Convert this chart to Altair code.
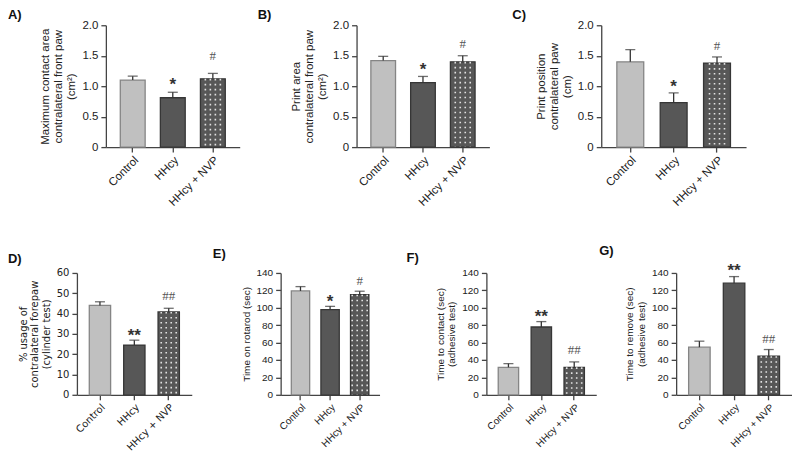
import altair as alt
import pandas as pd

groups = ["Control", "HHcy", "HHcy + NVP"]

a_mean = [1.10, 0.81, 1.12]
a_err = [0.065, 0.09, 0.09]
a_sig = ["", "*", "#"]
a_sig_y = [0, 1.09, 1.50]

b_mean = [1.42, 1.06, 1.40]
b_err = [0.07, 0.10, 0.10]
b_sig = ["", "*", "#"]
b_sig_y = [0, 1.33, 1.70]

c_mean = [1.40, 0.73, 1.38]
c_err = [0.20, 0.16, 0.10]
c_sig = ["", "*", "#"]
c_sig_y = [0, 1.05, 1.66]

d_mean = [44.0, 24.5, 40.8]
d_err = [1.8, 2.4, 1.8]
d_sig = ["", "**", "##"]
d_sig_y = [0, 31.0, 48.6]

e_mean = [119.3, 97.8, 115.0]
e_err = [5.0, 3.8, 4.0]
e_sig = ["", "*", "#"]
e_sig_y = [0, 111.0, 130.5]

f_mean = [31.6, 77.9, 31.6]
f_err = [4.2, 6.2, 6.2]
f_sig = ["", "**", "##"]
f_sig_y = [0, 94.0, 52.0]

g_mean = [54.7, 128.2, 44.4]
g_err = [6.9, 7.6, 7.6]
g_sig = ["", "**", "##"]
g_sig_y = [0, 147.0, 64.0]

fills = ["#c0c0c0", "#575757", "#575757"]
strokes = ["#858585", "#363636", "#363636"]
AXC = "#444444"
TXT = "#222222"


def panel(label, mean, err, sig, sig_y, ymax, yvals, ytitle, width, height,
          font, fs, tfs, ldx, ldy, fmt_decimal):
    df = pd.DataFrame({
        "group": groups,
        "mean": mean,
        "top": [m + e for m, e in zip(mean, err)],
        "sig": sig,
        "sig_y": sig_y,
    })
    if fmt_decimal:
        lexpr = "datum.value == 0 ? '0' : format(datum.value, '.1f')"
    else:
        lexpr = "format(datum.value, 'd')"
    yscale = alt.Scale(domain=[0, ymax], nice=False, zero=True)
    yaxis = alt.Axis(values=yvals, labelExpr=lexpr, title=ytitle,
                     labelFont=font, labelFontSize=fs, titleFont=font,
                     titleFontSize=tfs, titleFontWeight="normal",
                     titleLineHeight=tfs + 1.6, titlePadding=5,
                     labelPadding=3, tickSize=5)
    xenc = alt.X("group:N", sort=groups,
                 scale=alt.Scale(paddingInner=0.38, paddingOuter=0.36),
                 axis=alt.Axis(title=None, labelAngle=-45, labelFont=font,
                               labelFontSize=fs, labelPadding=2, tickSize=5))
    base = alt.Chart(df).encode(x=xenc)
    bars = base.mark_bar(strokeWidth=1.3).encode(
        y=alt.Y("mean:Q", scale=yscale, axis=yaxis),
        fill=alt.Fill("group:N", scale=alt.Scale(domain=groups, range=fills), legend=None),
        stroke=alt.Stroke("group:N", scale=alt.Scale(domain=groups, range=strokes), legend=None),
    )
    layers = [bars]
    for off in [-7.5, -2.5, 2.5, 7.5]:
        layers.append(
            base.transform_filter(alt.datum.group == "HHcy + NVP")
            .mark_rule(xOffset=off, color="#f2f2f2", strokeWidth=1.6,
                       strokeDash=[1.6, 3.4], opacity=0.9)
            .encode(y=alt.Y("mean:Q", scale=yscale, axis=yaxis), y2=alt.datum(0.0))
        )
    layers.append(
        base.mark_rule(color="#333333", strokeWidth=1.3).encode(
            y=alt.Y("mean:Q", scale=yscale, axis=yaxis), y2="top:Q")
    )
    layers.append(
        base.mark_tick(orient="horizontal", size=10, thickness=1.3, color="#333333").encode(
            y=alt.Y("top:Q", scale=yscale, axis=yaxis))
    )
    layers.append(
        base.transform_filter("indexof(datum.sig, '*') >= 0")
        .mark_text(font="Liberation Sans", fontSize=17, fontWeight="bold",
                   color="#333333", baseline="middle", dy=4)
        .encode(y=alt.Y("sig_y:Q", scale=yscale, axis=yaxis), text="sig:N")
    )
    layers.append(
        base.transform_filter("indexof(datum.sig, '#') >= 0")
        .mark_text(font="Liberation Serif", fontSize=13, color="#555555",
                   baseline="middle", dy=0)
        .encode(y=alt.Y("sig_y:Q", scale=yscale, axis=yaxis), text="sig:N")
    )
    return alt.layer(*layers).properties(
        width=width, height=height,
        title=alt.TitleParams(label, anchor="start", frame="group", dx=ldx, dy=ldy,
                              offset=0, font="Liberation Sans", fontSize=13,
                              fontWeight="bold", color="#111111"),
    )


def spacer(w):
    return alt.Chart(pd.DataFrame({"s": [0]})).mark_point(opacity=0).properties(width=w, height=1)


top_vals = [0, 0.5, 1.0, 1.5, 2.0]
bot_vals = [0, 20, 40, 60, 80, 100, 120, 140]
pA = panel("A)", a_mean, a_err, a_sig, a_sig_y, 2.0, top_vals,
           ["Maximum contact area", "contralateral front paw", "(cm²)"],
           134, 122, "Liberation Sans", 11.5, 11.5, -98, 3, True)
pB = panel("B)", b_mean, b_err, b_sig, b_sig_y, 2.0, top_vals,
           ["Print area", "contralateral front paw", "(cm²)"],
           133, 122, "Liberation Sans", 11.5, 11.5, -99, 3, True)
pC = panel("C)", c_mean, c_err, c_sig, c_sig_y, 2.0, top_vals,
           ["Print position", "contralateral paw", "(cm)"],
           145, 122, "Liberation Sans", 11.5, 11.5, -89, 3, True)

pD = panel("D)", d_mean, d_err, d_sig, d_sig_y, 60, [0, 10, 20, 30, 40, 50, 60],
           ["% usage of", "contralateral forepaw", "(cylinder test)"],
           115, 122, "DejaVu Sans", 10, 10, -69, -2, False)
pE = panel("E)", e_mean, e_err, e_sig, e_sig_y, 140, bot_vals,
           "Time on rotarod (sec)",
           99, 122, "Liberation Sans", 10, 10, -68, -7, False)
pF = panel("F)", f_mean, f_err, f_sig, f_sig_y, 140, bot_vals,
           ["Time to contact (sec)", "(adhesive test)"],
           110, 122, "Liberation Sans", 10, 10, -80, -3, False)
pG = panel("G)", g_mean, g_err, g_sig, g_sig_y, 140, bot_vals,
           ["Time to remove (sec)", "(adhesive test)"],
           116, 122, "Liberation Sans", 10, 10, -77, -4, False)

top = alt.hconcat(spacer(29), pA, spacer(117), pB, spacer(112), pC,
                  spacing=0, bounds="flush")
bottom = alt.hconcat(pD, spacer(89), pE, spacer(107), pF, spacer(80), pG,
                     spacing=0, bounds="flush")

chart = alt.vconcat(top, bottom, spacing=248, bounds="flush").properties(
    padding={"left": 0, "top": 1, "right": 0, "bottom": 0}
).configure_view(stroke=None).configure_axis(
    grid=False, domainColor=AXC, domainWidth=1.3, tickColor=AXC, tickWidth=1.3,
    labelColor=TXT, titleColor=TXT,
).configure_concat(spacing=0)

chart.save("out.html", embed_options={"renderer": "svg", "actions": False})
